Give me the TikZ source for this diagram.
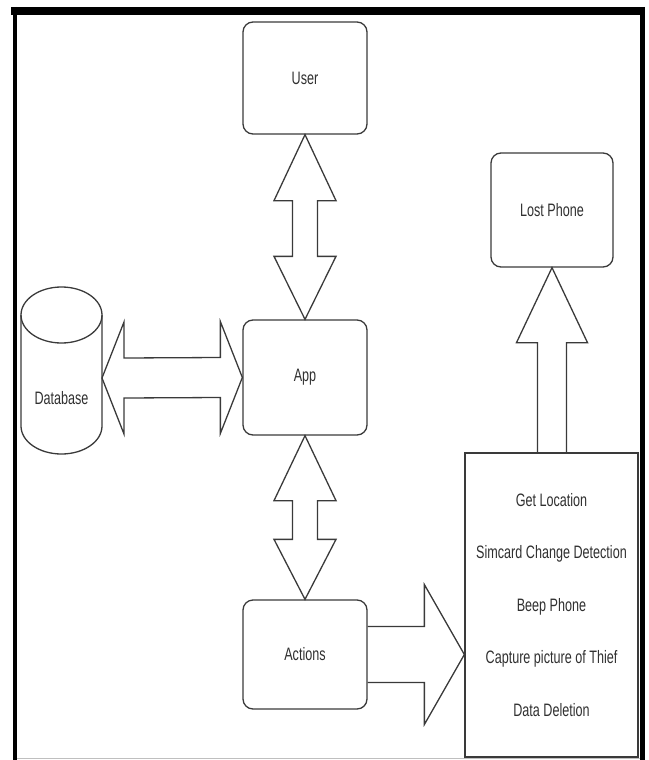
\documentclass[tikz,border=0pt]{standalone}
\usepackage{fontspec}
\usetikzlibrary{calc}
\newfontfamily\narrowsans[FakeStretch=0.7]{Liberation Sans}
\definecolor{boxgray}{HTML}{3A3A3A}
\definecolor{txtgray}{HTML}{303030}
\begin{document}
\begin{tikzpicture}[x=1pt,y=-1pt,
  lbl/.style={font=\narrowsans\fontsize{18}{21}\selectfont, text=txtgray},
  roundbox/.style={draw=boxgray, line width=1.3pt, rounded corners=10pt,
    minimum width=124pt, minimum height=112pt, inner sep=0pt, lbl},
  listbox/.style={draw=boxgray, line width=1.3pt, minimum width=173pt,
    minimum height=304pt, inner sep=0pt, align=center,
    font=\narrowsans\fontsize{18}{52.5}\selectfont, text=txtgray},
  blockarrow/.style={draw=boxgray, line width=1.3pt, line join=miter},
  framebar/.style={draw=black}]
\useasboundingbox (0,0) rectangle (648,760);
% outer frame
\draw[framebar, line width=8pt] (11,11) -- (645,11);
\draw[framebar, line width=4pt] (15,7) -- (15,760);
\draw[framebar, line width=5pt] (642.5,7) -- (642.5,760);
\draw[draw=black!25, line width=1pt] (17,758) -- (640,758);
% nodes
\node[roundbox] (user) at (305,78) {User};
\node[roundbox, minimum height=115pt] (app) at (305,377.5) {App};
\node[roundbox, minimum height=109pt] (actions) at (305,654.5) {Actions};
\node[roundbox, minimum width=122pt, minimum height=114pt] (lost) at (552,210) {Lost Phone};
\node[listbox] (acts) at (551.5,605) {Get Location\\Simcard Change Detection\\Beep Phone\\Capture picture of Thief\\Data Deletion};
% database cylinder
\draw[draw=boxgray, line width=1.3pt] (61.5,315) ellipse [x radius=40.5pt, y radius=28pt];
\draw[draw=boxgray, line width=1.3pt] (21,315) -- (21,426)
  .. controls (21,441.5) and (39.1,454) .. (61.5,454)
  .. controls (83.9,454) and (102,441.5) .. (102,426) -- (102,315);
\node[lbl] (db) at (61.5,398) {Database};
\coordinate (dbR) at (102,378);
% User <-> App
\draw[blockarrow] (user.south) -- ++(31,66) -- ++(-18.5,0)
  -- ($(app.north)+(12.5,-63)$) -- ++(18.5,0) -- (app.north)
  -- ++(-31,-63) -- ++(18.5,0) -- ($(user.south)+(-12.5,66)$)
  -- ++(-18.5,0) -- cycle;
% App <-> Actions
\draw[blockarrow] (app.south) -- ++(31,65) -- ++(-18.5,0)
  -- ($(actions.north)+(12.5,-60)$) -- ++(18.5,0) -- (actions.north)
  -- ++(-31,-60) -- ++(18.5,0) -- ($(app.south)+(-12.5,65)$)
  -- ++(-18.5,0) -- cycle;
% Database <-> App
\draw[blockarrow] (dbR) -- ++(22,-56) -- ++(0,36)
  -- ($(app.west)+(-22,-20)$) -- ++(0,-36) -- (app.west)
  -- ++(-22,56) -- ++(0,-36) -- ($(dbR)+(22,20)$)
  -- ++(0,36) -- cycle;
% Actions -> list
\draw[blockarrow] ($(actions.east)+(0,-28)$) -- ($(actions.east -| acts.west)+(-40,-28)$)
  -- ++(0,-42) -- (actions.east -| acts.west) -- ++(-40,70) -- ++(0,-42)
  -- ($(actions.east)+(0,28)$);
% list -> Lost Phone
\draw[blockarrow] ($(lost.south |- acts.north)+(14.5,0)$) -- ($(lost.south)+(14.5,75)$)
  -- ++(21,0) -- (lost.south) -- ++(-35.5,75) -- ++(21,0)
  -- ($(lost.south |- acts.north)+(-14.5,0)$);
\end{tikzpicture}
\end{document}
